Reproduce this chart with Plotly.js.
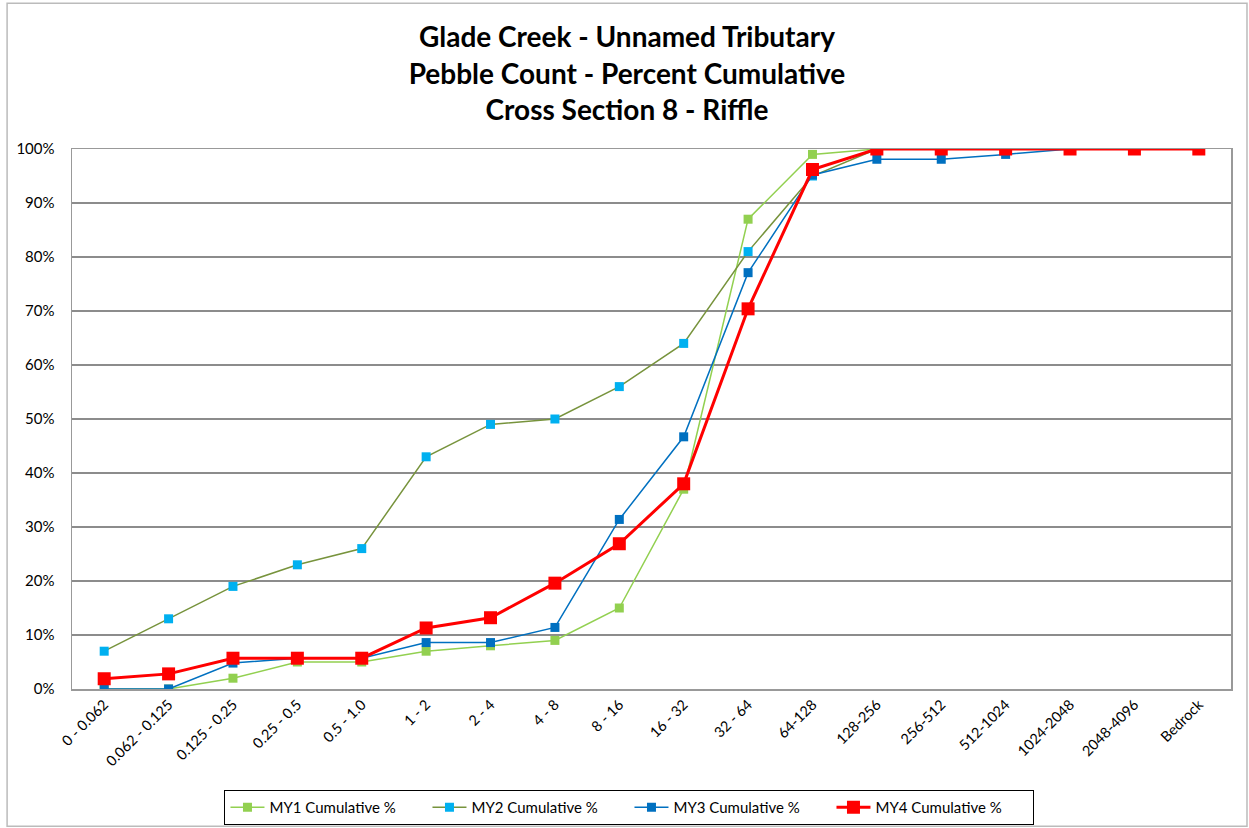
<!DOCTYPE html>
<html>
<head>
<meta charset="utf-8">
<script src="https://cdn.plot.ly/plotly-3.0.1.min.js"></script>
<style>
html,body{margin:0;padding:0;background:#fff;}
#chart{width:1249px;height:828px;}
</style>
</head>
<body>
<div id="chart"></div>
<script>
const categories = ["0 - 0.062","0.062 - 0.125","0.125 - 0.25","0.25 - 0.5","0.5 - 1.0","1 - 2","2 - 4","4 - 8","8 - 16","16 - 32","32 - 64","64-128","128-256","256-512","512-1024","1024-2048","2048-4096","Bedrock"];
const my1 = [0, 0, 2, 5, 5, 7, 8, 9, 15, 37, 87, 99, 100, 100, 100, 100, 100, 100];
const my2 = [7, 13, 19, 23, 26, 43, 49, 50, 56, 64, 81, 95, 100, 100, 100, 100, 100, 100];
const my3 = [0, 0, 4.8, 5.7, 5.7, 8.6, 8.6, 11.4, 31.4, 46.7, 77.1, 95.2, 98.1, 98.1, 99, 100, 100, 100];
const my4 = [1.9, 2.8, 5.7, 5.7, 5.7, 11.3, 13.2, 19.6, 26.9, 38, 70.4, 96.2, 100, 100, 100, 100, 100, 100];
const seriesNames = ["MY1 Cumulative %","MY2 Cumulative %","MY3 Cumulative %","MY4 Cumulative %"];
const yTickVals = [0,10,20,30,40,50,60,70,80,90,100];
const yTickText = ["0%","10%","20%","30%","40%","50%","60%","70%","80%","90%","100%"];

const xIdx = categories.map((c,i)=>i);
const font = "Lato, 'Open Sans', sans-serif";

const traces = [
  {x: xIdx, y: my1, name: seriesNames[0], mode: "lines+markers",
   line: {color: "#92D050", width: 1.5}, marker: {symbol: "square", size: 9, color: "#92D050"}},
  {x: xIdx, y: my2, name: seriesNames[1], mode: "lines+markers",
   line: {color: "#77933C", width: 1.5}, marker: {symbol: "square", size: 9, color: "#00B0F0"}},
  {x: xIdx, y: my3, name: seriesNames[2], mode: "lines+markers",
   line: {color: "#0070C0", width: 1.5}, marker: {symbol: "square", size: 9, color: "#0070C0"}},
  {x: xIdx, y: my4, name: seriesNames[3], mode: "lines+markers",
   line: {color: "#FF0000", width: 3}, marker: {symbol: "square", size: 13, color: "#FF0000"}}
];

const layout = {
  width: 1249, height: 828,
  paper_bgcolor: "#fff", plot_bgcolor: "#fff",
  margin: {l: 72, r: 18, t: 149, b: 139, autoexpand: false},
  font: {family: font, color: "#000"},
  title: {
    text: "<b>Glade Creek - Unnamed Tributary</b><br><b>Pebble Count - Percent Cumulative</b><br><b>Cross Section 8 - Riffle</b>",
    font: {family: font, size: 28, color: "#000"},
    x: 0.502, xanchor: "center", yref: "container", y: 0.943, yanchor: "top"
  },
  xaxis: {
    type: "linear", range: [-0.5, 17.5], automargin: false,
    tickmode: "array", tickvals: xIdx, ticktext: categories,
    tickangle: -45, tickfont: {size: 14.5, family: font},
    showgrid: false, zeroline: false,
    showline: true, linecolor: "#999", linewidth: 1.5, mirror: true,
    ticks: ""
  },
  yaxis: {
    range: [0, 100], automargin: false,
    tickmode: "array", tickvals: yTickVals, ticktext: yTickText,
    tickfont: {size: 15, family: font},
    showgrid: true, gridcolor: "#8c8c8c", gridwidth: 1.5,
    zeroline: false,
    showline: true, linecolor: "#999", linewidth: 1.5, mirror: true,
    ticks: "", ticklabelstandoff: 13
  },
  legend: {
    orientation: "h", x: 0.481, xanchor: "center",
    yref: "container", y: 0.0459, yanchor: "top",
    bordercolor: "#000", borderwidth: 1, bgcolor: "#fff",
    font: {size: 15, family: font},
    itemwidth: 34, entrywidth: 153, tracegroupgap: 0
  },
  shapes: [
    {type: "rect", xref: "paper", yref: "paper", x0: -0.056, x1: 1.0138, y0: -0.254, y1: 1.27,
     line: {color: "#bbbbbb", width: 1.5}, layer: "below"}
  ],
  showlegend: true
};

Plotly.newPlot("chart", traces, layout, {displayModeBar: false, staticPlot: true});
</script>
</body>
</html>
